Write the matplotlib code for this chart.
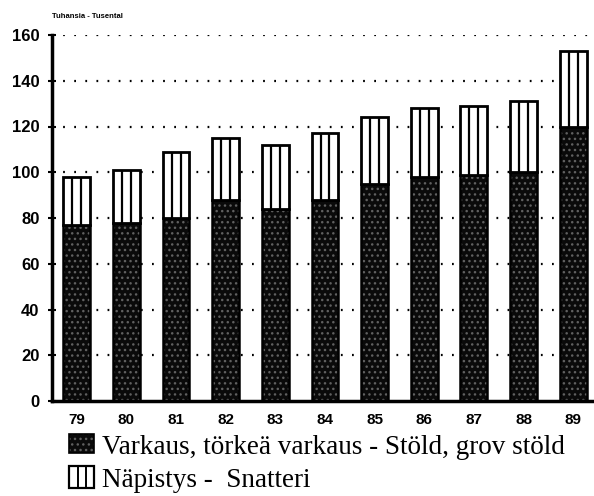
import numpy as np
import matplotlib
matplotlib.use("Agg")
import matplotlib.pyplot as plt
from matplotlib.patches import Rectangle
from matplotlib.lines import Line2D

# vuodet - år
years = ["79", "80", "81", "82", "83", "84", "85", "86", "87", "88", "89"]
# tuhansia - tusental
varkaus = [77, 78, 80, 88, 84, 88, 95, 98, 99, 100, 120]
napistys = [21, 23, 29, 27, 28, 29, 29, 30, 30, 31, 33]

label_varkaus = "Varkaus, törkeä varkaus - Stöld, grov stöld"
label_napistys = "Näpistys -  Snatteri"
unit_text = "Tuhansia - Tusental"
y_ticks = [0, 20, 40, 60, 80, 100, 120, 140, 160]

W, H = 594, 496
plt.rcParams["hatch.linewidth"] = 1.0

fig = plt.figure(figsize=(W / 100, H / 100), dpi=100)
ax = fig.add_axes([52 / W, 1 - 401 / H, 542 / W, 366 / H])

x = np.arange(len(years))
width = 0.54
totals = np.array(varkaus) + np.array(napistys)

# tumma osa: musta, pisteytetty
ax.bar(x, varkaus, width=width, color="#0a0a0a", hatch="...",
       edgecolor="#606060", linewidth=0, zorder=2)
ax.bar(x, varkaus, width=width, fill=False, edgecolor="black",
       linewidth=1.8, zorder=3)
# vaalea osa: pystyviivat
ax.bar(x, napistys, bottom=varkaus, width=width, color="white",
       edgecolor="black", linewidth=2.0, zorder=3)
for off in (-width / 6, width / 6):
    ax.vlines(x + off, varkaus, totals, color="black", linewidth=1.6, zorder=4)

ax.set_xlim(-0.5, 10.42)
ax.set_ylim(0, 160)
ax.set_yticks(y_ticks)
ax.set_xticks(x)
ax.set_xticklabels(years)

for v in y_ticks[1:]:
    ax.axhline(v, color="black", linewidth=1.6, linestyle=(0, (0.8, 4.2)), zorder=1)

for s in ("top", "right"):
    ax.spines[s].set_visible(False)
ax.spines["left"].set_linewidth(2.5)
ax.spines["bottom"].set_linewidth(2.5)

ax.tick_params(axis="y", direction="inout", length=6, width=1.5, pad=6)
ax.tick_params(axis="x", length=0, pad=9)
for t in ax.get_yticklabels():
    t.set_fontfamily("Liberation Sans")
    t.set_fontweight("bold")
    t.set_fontsize(12)
for t in ax.get_xticklabels():
    t.set_fontfamily("Liberation Sans")
    t.set_fontweight("bold")
    t.set_fontsize(11)

fig.text(52 / W, 1 - 16 / H, unit_text, fontsize=5.5, fontweight="bold",
         family="Liberation Sans", va="center", ha="left")

# selite
def fx(px):
    return px / W


def fy(py):
    return 1 - py / H


fig.add_artist(Rectangle((fx(69), fy(453)), 25 / W, 19 / H, transform=fig.transFigure,
                         facecolor="#0a0a0a", hatch="...", edgecolor="#606060", linewidth=0))
fig.add_artist(Rectangle((fx(69), fy(453)), 25 / W, 19 / H, transform=fig.transFigure,
                         fill=False, edgecolor="black", linewidth=1.2))
fig.add_artist(Rectangle((fx(69), fy(488)), 25 / W, 22 / H, transform=fig.transFigure,
                         facecolor="white", edgecolor="black", linewidth=1.6))
for px in (77.5, 85.5):
    fig.add_artist(Line2D([fx(px), fx(px)], [fy(488), fy(466)], transform=fig.transFigure,
                          color="black", linewidth=1.4))

fig.text(fx(102), fy(454), label_varkaus, family="Liberation Serif", fontsize=19.5,
         va="baseline", ha="left")
fig.text(fx(102), fy(487), label_napistys, family="Liberation Serif", fontsize=19.5,
         va="baseline", ha="left")

fig.savefig("out.png", dpi=100)
